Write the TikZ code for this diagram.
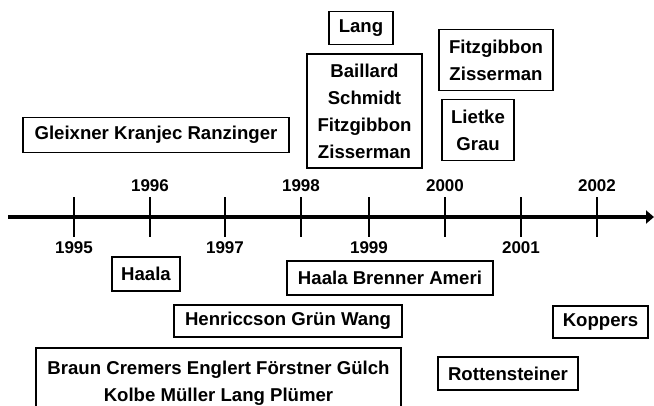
\documentclass[tikz,border=0pt]{standalone}
\usepackage{fontspec}
\setmainfont{Liberation Sans}
\usetikzlibrary{arrows.meta}

\begin{document}
\begin{tikzpicture}[x=1pt, y=-1pt]
    % Define styles
    \tikzset{
        namebox/.style={draw, line width=1.5pt, inner sep=0pt, align=center,
            font=\bfseries\fontsize{18.6}{27}\selectfont},
        yearlabel/.style={font=\bfseries\fontsize{17}{18}\selectfont}
    }

    % Fix the page size
    \useasboundingbox (0,0) rectangle (654,405);

    % Draw axis
    \coordinate (axisStart) at (8,217);
    \coordinate (axisEnd) at (654,217);
    \draw[line width=3.4pt, -{Triangle[length=8pt,width=13pt]}] (axisStart) -- (axisEnd);

    % Ticks and year labels, even years above, odd years below
    \foreach \yr/\x in {1995/74, 1997/225, 1999/369, 2001/521}{
        \draw[line width=1.2pt] (\x,197) -- (\x,237);
        \node[yearlabel] (y\yr) at (\x,248) {\yr};
    }
    \foreach \yr/\x in {1996/150, 1998/301, 2000/445, 2002/597}{
        \draw[line width=1.2pt] (\x,197) -- (\x,237);
        \node[yearlabel] (y\yr) at (\x,186) {\yr};
    }

    % Boxes above the axis
    \node[namebox, minimum width=266pt, minimum height=35pt] (gleixner) at (156,135) {Gleixner Kranjec Ranzinger};
    \node[namebox, minimum width=64pt, minimum height=33pt] (lang) at (361,28) {Lang};
    \node[namebox, minimum width=115pt, minimum height=114pt] (baillard) at (364.5,111) {Baillard\\Schmidt\\Fitzgibbon\\Zisserman};
    \node[namebox, minimum width=114pt, minimum height=61pt] (fitzgibbon) at (496,60) {Fitzgibbon\\Zisserman};
    \node[namebox, minimum width=72pt, minimum height=61pt] (lietke) at (478,130) {Lietke\\Grau};

    % Boxes below the axis
    \node[namebox, minimum width=68pt, minimum height=34pt] (haala) at (146,274) {Haala};
    \node[namebox, minimum width=206pt, minimum height=34pt] (haalaBrenner) at (390,278) {Haala Brenner Ameri};
    \node[namebox, minimum width=228pt, minimum height=32pt] (henriccson) at (288,321) {Henriccson Grün Wang};
    \node[namebox, minimum width=95pt, minimum height=32pt] (koppers) at (600.5,322) {Koppers};
    \node[namebox, minimum width=140pt, minimum height=33pt] (rottensteiner) at (508,373.5) {Rottensteiner};
    \node[namebox, minimum width=365pt, minimum height=70pt, anchor=north] (braun) at (218.5,347) {Braun Cremers Englert Förstner Gülch\\Kolbe Müller Lang Plümer};

\end{tikzpicture}
\end{document}
